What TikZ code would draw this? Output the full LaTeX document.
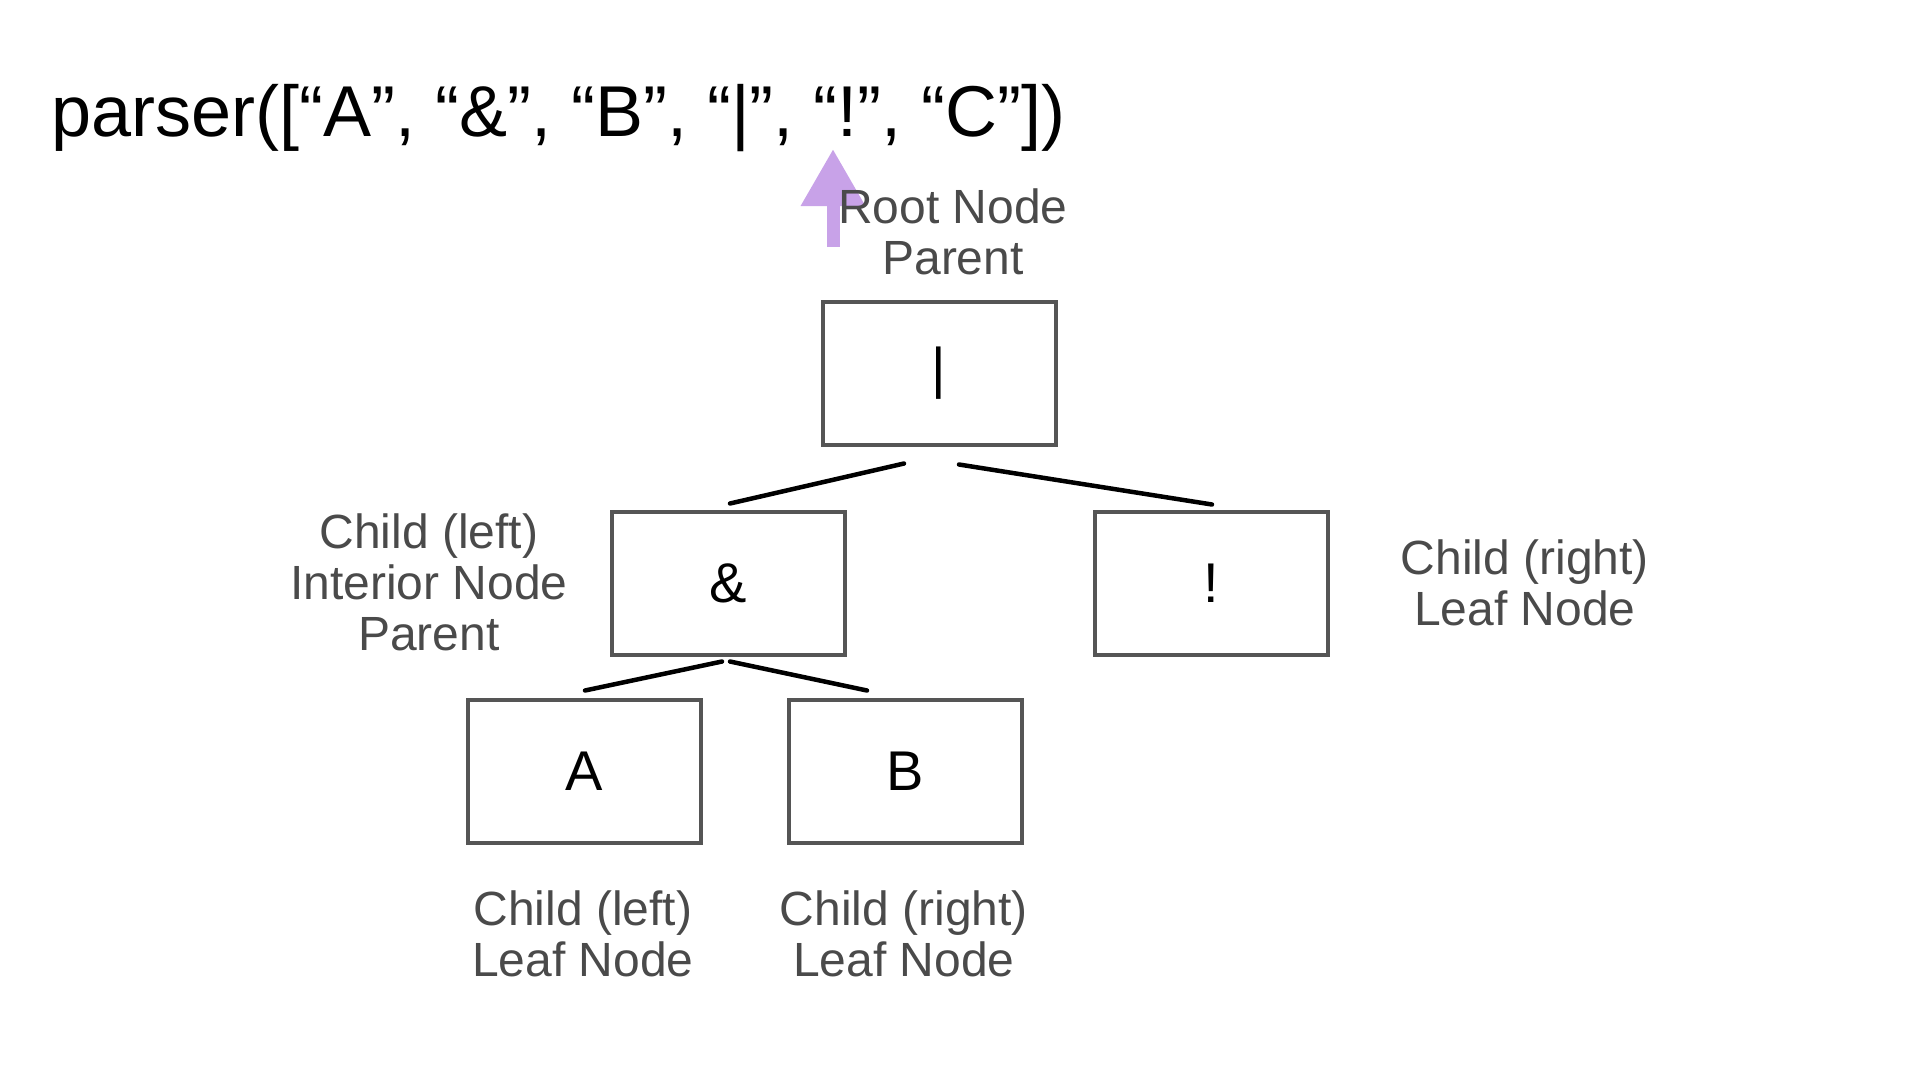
\documentclass[tikz,border=0pt]{standalone}
\usepackage{fontspec}
\setmainfont{Liberation Sans}
\usetikzlibrary{arrows.meta}
\definecolor{boxgray}{RGB}{85,85,85}
\definecolor{labelgray}{RGB}{74,74,74}
\definecolor{arrowpurple}{RGB}{200,162,232}

\begin{document}
\begin{tikzpicture}[x=1pt,y=-1pt,
  tnode/.style={draw=boxgray,line width=4pt,minimum width=233pt,minimum height=143pt,inner sep=0pt,font=\fontsize{56}{60}\selectfont},
  tlabel/.style={text=labelgray,align=center,inner sep=0pt,font=\fontsize{48}{51}\selectfont},
  tedge/.style={line width=4.5pt,line cap=round}]
\useasboundingbox (0,0) rectangle (1920,1080);
\node[anchor=base west,inner sep=0pt,font=\fontsize{72}{80}\selectfont] (call) at (51,136) {parser([“A”, “\&”, “B”, “|”, “!”, “C”])};
\node[tnode] (root) at (939,373) {|};
\node[tnode] (amp) at (728,583) {\&};
\node[tnode] (bang) at (1211,583) {!};
\node[tnode] (a) at (584,771) {A};
\node[tnode] (b) at (905,771) {B};
\draw[tedge] ([xshift=-35pt,yshift=-17pt]root.south) -- ([xshift=2pt,yshift=6pt]amp.north);
\draw[tedge] ([xshift=20pt,yshift=-18pt]root.south) -- ([xshift=1pt,yshift=5pt]bang.north);
\draw[tedge] ([xshift=-6pt,yshift=-5pt]amp.south) -- ([xshift=1pt,yshift=7pt]a.north);
\draw[tedge] ([xshift=2pt,yshift=-5pt]amp.south) -- ([xshift=-38pt,yshift=7pt]b.north);
\coordinate (tail) at (833,247);
\coordinate (tip) at (833,149);
\draw[line width=13pt,arrowpurple,-{Triangle[width=61pt,length=57pt]}] (tail) -- (tip);
\node[tlabel] (rootlbl) at (953,232) {Root Node\\Parent};
\node[tlabel] (amplbl) at (429,582) {Child (left)\\Interior Node\\Parent};
\node[tlabel] (banglbl) at (1525,583) {Child (right)\\Leaf Node};
\node[tlabel] (albl) at (583,934) {Child (left)\\Leaf Node};
\node[tlabel] (blbl) at (904,934) {Child (right)\\Leaf Node};
\end{tikzpicture}
\end{document}
